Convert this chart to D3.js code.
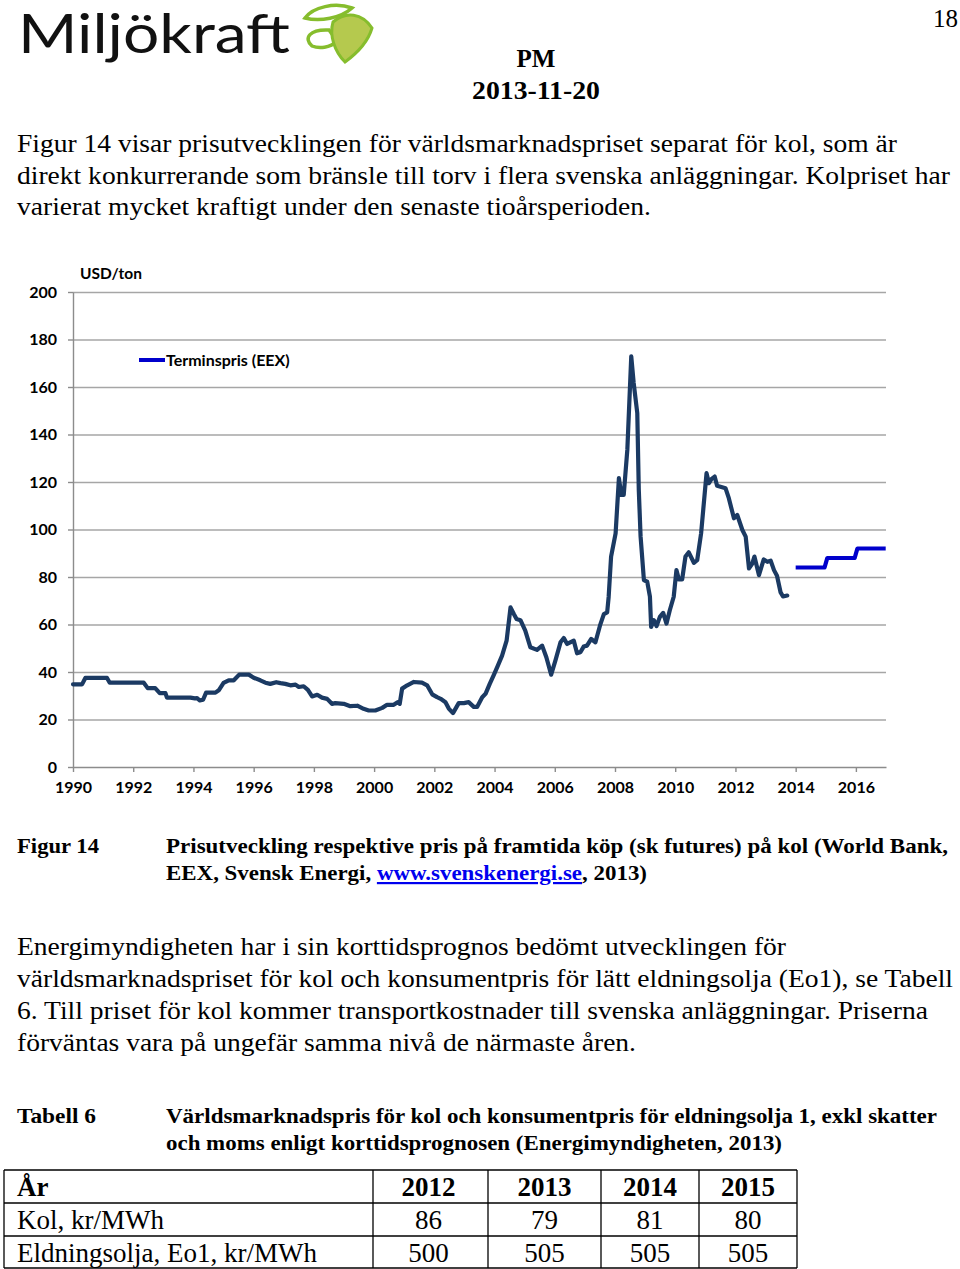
<!DOCTYPE html>
<html>
<head>
<meta charset="utf-8">
<script src="https://cdnjs.cloudflare.com/ajax/libs/d3/7.8.5/d3.min.js"></script>
<style>
  body { margin: 0; background: #fff; }
  svg { display: block; }
</style>
</head>
<body>
<div id="page"></div>
<script>
// coal price, World Bank (USD/ton)
var coalYears = [1990.00, 1990.30, 1990.41, 1991.13, 1991.22, 1992.35, 1992.48, 1992.73, 1992.88, 1993.07,
  1993.12, 1993.90, 1994.05, 1994.12, 1994.21, 1994.32, 1994.42, 1994.73, 1994.84, 1995.00,
  1995.17, 1995.34, 1995.52, 1995.84, 1996.00, 1996.22, 1996.39, 1996.55, 1996.75, 1996.89,
  1997.05, 1997.22, 1997.39, 1997.50, 1997.66, 1997.80, 1997.94, 1998.11, 1998.27, 1998.44,
  1998.60, 1998.71, 1998.99, 1999.21, 1999.44, 1999.65, 1999.82, 2000.04, 2000.27, 2000.43,
  2000.65, 2000.78, 2000.85, 2000.93, 2001.10, 2001.32, 2001.59, 2001.76, 2001.93, 2002.09,
  2002.21, 2002.37, 2002.48, 2002.62, 2002.81, 2002.98, 2003.14, 2003.31, 2003.42, 2003.59,
  2003.70, 2003.84, 2003.98, 2004.11, 2004.25, 2004.40, 2004.53, 2004.64, 2004.73, 2004.86,
  2005.02, 2005.19, 2005.41, 2005.58, 2005.72, 2005.88, 2006.02, 2006.19, 2006.30, 2006.41,
  2006.63, 2006.74, 2006.85, 2006.96, 2007.07, 2007.21, 2007.35, 2007.50, 2007.63, 2007.74,
  2007.79, 2007.87, 2008.02, 2008.13, 2008.21, 2008.29, 2008.41, 2008.54, 2008.62, 2008.74,
  2008.79, 2008.85, 2008.96, 2009.07, 2009.16, 2009.20, 2009.29, 2009.38, 2009.49, 2009.60,
  2009.71, 2009.82, 2009.95, 2010.04, 2010.12, 2010.23, 2010.34, 2010.45, 2010.62, 2010.73,
  2010.86, 2011.04, 2011.12, 2011.20, 2011.31, 2011.39, 2011.56, 2011.67, 2011.78, 2011.95,
  2012.06, 2012.23, 2012.34, 2012.45, 2012.56, 2012.63, 2012.78, 2012.94, 2013.06, 2013.17,
  2013.28, 2013.38, 2013.50, 2013.58, 2013.72];
var coalValues = [34.8, 34.8, 37.5, 37.5, 35.5, 35.5, 33.2, 33.2, 31.1, 31.1,
  29.2, 29.2, 28.9, 29.0, 28.0, 28.3, 31.3, 31.3, 32.3, 35.4,
  36.5, 36.5, 38.9, 38.9, 37.6, 36.5, 35.5, 35.0, 35.7, 35.3,
  35.0, 34.4, 34.7, 33.7, 34.0, 32.5, 29.7, 30.4, 29.2, 28.7,
  26.6, 26.9, 26.6, 25.6, 25.8, 24.5, 23.8, 23.8, 24.9, 26.2,
  26.2, 27.3, 26.6, 33.0, 34.4, 35.8, 35.5, 34.4, 30.6, 29.4,
  28.7, 27.3, 24.6, 22.7, 26.9, 26.9, 27.3, 25.3, 25.3, 29.4,
  30.8, 35.0, 38.9, 42.7, 46.9, 53.2, 67.2, 64.4, 62.3, 61.8,
  57.4, 50.4, 49.3, 51.1, 46.2, 38.9, 44.8, 52.5, 54.3, 51.8,
  53.2, 47.9, 48.3, 50.7, 51.1, 53.9, 52.5, 59.5, 64.4, 65.1,
  71.7, 88.6, 98.4, 121.6, 114.6, 114.6, 133.6, 172.9, 161.7, 149.0,
  116.7, 97.0, 78.7, 78.0, 71.7, 59.0, 61.8, 59.3, 63.2, 64.9,
  60.4, 66.0, 71.7, 82.9, 79.0, 79.0, 88.6, 90.4, 86.0, 87.1,
  98.4, 123.7, 119.5, 121.2, 122.3, 118.4, 117.8, 117.4, 113.2, 104.7,
  106.1, 99.8, 97.0, 83.6, 85.7, 88.6, 80.8, 87.4, 86.4, 86.9,
  82.9, 80.5, 73.5, 71.8, 72.2];

// futures price EEX, one level per calendar year
var eexYears = [2014, 2015, 2016];
var eexValues = [84, 88, 92];

var xTicks = [1990, 1992, 1994, 1996, 1998, 2000, 2002, 2004, 2006, 2008, 2010, 2012, 2014, 2016];
var yTicks = [0, 20, 40, 60, 80, 100, 120, 140, 160, 180, 200];

// table 6
var tableYears = ['2012', '2013', '2014', '2015'];
var kolValues = ['86', '79', '81', '80'];
var oljaValues = ['500', '505', '505', '505'];

var W = 960, H = 1269;
var serif = '"Liberation Serif", "Times New Roman", serif';
var sans = 'Lato, "Open Sans", sans-serif';

var svg = d3.select('#page').append('svg')
  .attr('width', W)
  .attr('height', H);

// ---------- header / logo ----------
svg.append('text')
  .attr('x', 18).attr('y', 53)
  .attr('font-family', sans)
  .attr('font-size', 54)
  .attr('textLength', 272)
  .attr('lengthAdjust', 'spacingAndGlyphs')
  .attr('fill', '#111')
  .text('Miljökraft');

var leaf = svg.append('g');
leaf.append('path')
  .attr('d', 'M305,18 C313,7 335,2 352,8 C341,18 320,22 305,18 Z')
  .attr('fill', 'none').attr('stroke', '#86bd2d').attr('stroke-width', 3.5);
leaf.append('path')
  .attr('d', 'M312,46 C303,38 310,29 329,30 L337,41 C330,48 319,49 312,46 Z')
  .attr('fill', 'none').attr('stroke', '#86bd2d').attr('stroke-width', 3.5);
leaf.append('path')
  .attr('d', 'M333,22 C346,11 362,13 372,28 C368,42 356,54 345,62 C335,52 329,36 333,22 Z')
  .attr('fill', '#b5c94e').attr('stroke', '#86bd2d').attr('stroke-width', 3);

svg.append('text')
  .attr('x', 958).attr('y', 27)
  .attr('text-anchor', 'end')
  .attr('font-family', serif).attr('font-size', 25)
  .text('18');

svg.append('text')
  .attr('x', 536).attr('y', 67)
  .attr('text-anchor', 'middle')
  .attr('font-family', serif).attr('font-size', 25).attr('font-weight', 'bold')
  .text('PM');
svg.append('text')
  .attr('x', 472).attr('y', 99)
  .attr('font-family', serif).attr('font-size', 25).attr('font-weight', 'bold')
  .attr('textLength', 128).attr('lengthAdjust', 'spacingAndGlyphs')
  .text('2013-11-20');

// helper for a line of body text stretched to the width seen in the picture
function textLine(x, y, str, width, size, bold) {
  var t = svg.append('text')
    .attr('x', x).attr('y', y)
    .attr('font-family', serif)
    .attr('font-size', size)
    .attr('font-weight', bold ? 'bold' : 'normal')
    .attr('fill', '#000');
  if (width) t.attr('textLength', width).attr('lengthAdjust', 'spacingAndGlyphs');
  return t.text(str);
}

textLine(17, 152, 'Figur 14 visar prisutvecklingen för världsmarknadspriset separat för kol, som är', 880, 26);
textLine(17, 184, 'direkt konkurrerande som bränsle till torv i flera svenska anläggningar. Kolpriset har', 933, 26);
textLine(17, 215, 'varierat mycket kraftigt under den senaste tioårsperioden.', 634, 26);

// ---------- chart ----------
var x = d3.scaleLinear().domain([1990, 2017]).range([73, 886]);
var y = d3.scaleLinear().domain([0, 200]).range([767, 292]);

// gridlines
svg.append('g')
  .attr('transform', 'translate(73,0)')
  .call(d3.axisLeft(y).tickValues(yTicks.slice(1)).tickSize(-(886 - 73)).tickFormat(''))
  .call(function(g) {
    g.select('.domain').remove();
    g.selectAll('line').attr('stroke', '#a6a6a6').attr('stroke-width', 1.4);
  });

// y axis
svg.append('g')
  .attr('transform', 'translate(73,0)')
  .call(d3.axisLeft(y).tickValues(yTicks).tickSize(5).tickPadding(11).tickSizeOuter(0))
  .call(function(g) {
    g.select('.domain').attr('stroke', '#8c8c8c').attr('stroke-width', 1.4);
    g.selectAll('line').attr('stroke', '#8c8c8c').attr('stroke-width', 1.4);
    g.selectAll('text')
      .attr('font-family', sans).attr('font-size', 16).attr('font-weight', 'bold')
      .attr('fill', '#000');
  });

// x axis
svg.append('g')
  .attr('transform', 'translate(0,767)')
  .call(d3.axisBottom(x).tickValues(xTicks).tickSize(5).tickPadding(10).tickSizeOuter(0).tickFormat(d3.format('d')))
  .call(function(g) {
    g.select('.domain').attr('stroke', '#8c8c8c').attr('stroke-width', 1.4);
    g.selectAll('line').attr('stroke', '#8c8c8c').attr('stroke-width', 1.4);
    g.selectAll('text')
      .attr('font-family', sans).attr('font-size', 16).attr('font-weight', 'bold')
      .attr('fill', '#000');
  });

svg.append('text')
  .attr('x', 80).attr('y', 279)
  .attr('font-family', sans).attr('font-size', 15.5).attr('font-weight', 'bold')
  .text('USD/ton');

// coal series
var coal = coalYears.map(function(d, i) { return [d, coalValues[i]]; });
var line = d3.line()
  .x(function(d) { return x(d[0]); })
  .y(function(d) { return y(d[1]); });

svg.append('path')
  .datum(coal)
  .attr('d', line)
  .attr('fill', 'none')
  .attr('stroke', '#1b3a63')
  .attr('stroke-width', 4.2)
  .attr('stroke-linejoin', 'round')
  .attr('stroke-linecap', 'round');

// EEX futures: flat level through each year, short ramp between years
var eex = [];
eexYears.forEach(function(yr, i) {
  eex.push([yr + (i === 0 ? 0 : 0.05), eexValues[i]]);
  eex.push([yr + (i === eexYears.length - 1 ? 0.99 : 0.96), eexValues[i]]);
});
svg.append('path')
  .datum(eex)
  .attr('d', line)
  .attr('fill', 'none')
  .attr('stroke', '#0000cc')
  .attr('stroke-width', 4.2)
  .attr('stroke-linejoin', 'round');

// legend
svg.append('line')
  .attr('x1', 139).attr('x2', 165)
  .attr('y1', 360).attr('y2', 360)
  .attr('stroke', '#0000cc').attr('stroke-width', 4);
svg.append('text')
  .attr('x', 166).attr('y', 365.5)
  .attr('font-family', sans).attr('font-size', 16).attr('font-weight', 'bold')
  .text('Terminspris (EEX)');

// ---------- figure caption ----------
textLine(17, 853, 'Figur 14', 82, 22, true);
textLine(166, 853, 'Prisutveckling respektive pris på framtida köp (sk futures) på kol (World Bank,', 782, 22, true);
var cap2 = textLine(166, 880, '', 481, 22, true);
cap2.append('tspan').text('EEX, Svensk Energi, ');
cap2.append('tspan').attr('fill', '#0000ee').attr('text-decoration', 'underline').text('www.svenskenergi.se');
cap2.append('tspan').text(', 2013)');

textLine(17, 955, 'Energimyndigheten har i sin korttidsprognos bedömt utvecklingen för', 769, 26);
textLine(17, 987, 'världsmarknadspriset för kol och konsumentpris för lätt eldningsolja (Eo1), se Tabell', 936, 26);
textLine(17, 1019, '6. Till priset för kol kommer transportkostnader till svenska anläggningar. Priserna', 911, 26);
textLine(17, 1051, 'förväntas vara på ungefär samma nivå de närmaste åren.', 619, 26);

textLine(17, 1123, 'Tabell 6', 79, 22, true);
textLine(166, 1123, 'Världsmarknadspris för kol och konsumentpris för eldningsolja 1, exkl skatter', 771, 22, true);
textLine(166, 1150, 'och moms enligt korttidsprognosen (Energimyndigheten, 2013)', 616, 22, true);

// ---------- table 6 ----------
var colEdges = [4, 373, 488, 601, 699, 797];
var rowEdges = [1170, 1203, 1236, 1268];
var rows = [
  { label: 'År', values: tableYears, bold: true },
  { label: 'Kol, kr/MWh', values: kolValues, bold: false },
  { label: 'Eldningsolja, Eo1, kr/MWh', values: oljaValues, bold: false }
];
var tbl = svg.append('g');
tbl.selectAll('.hline')
  .data(rowEdges).enter()
  .append('line')
  .attr('x1', colEdges[0]).attr('x2', colEdges[colEdges.length - 1])
  .attr('y1', function(d) { return d; }).attr('y2', function(d) { return d; })
  .attr('stroke', '#000').attr('stroke-width', 1.3);
tbl.selectAll('.vline')
  .data(colEdges).enter()
  .append('line')
  .attr('x1', function(d) { return d; }).attr('x2', function(d) { return d; })
  .attr('y1', rowEdges[0]).attr('y2', rowEdges[rowEdges.length - 1])
  .attr('stroke', '#000').attr('stroke-width', 1.3);

rows.forEach(function(r, i) {
  var base = rowEdges[i] + 26;
  tbl.append('text')
    .attr('x', 17).attr('y', base)
    .attr('font-family', serif).attr('font-size', 27)
    .attr('font-weight', r.bold ? 'bold' : 'normal')
    .text(r.label);
  tbl.selectAll('.c' + i)
    .data(r.values).enter()
    .append('text')
    .attr('x', function(d, j) { return (colEdges[j + 1] + colEdges[j + 2]) / 2 + (j === 0 ? -2 : 0); })
    .attr('y', base)
    .attr('text-anchor', 'middle')
    .attr('font-family', serif).attr('font-size', 27)
    .attr('font-weight', r.bold ? 'bold' : 'normal')
    .text(function(d) { return d; });
});
</script>
</body>
</html>
